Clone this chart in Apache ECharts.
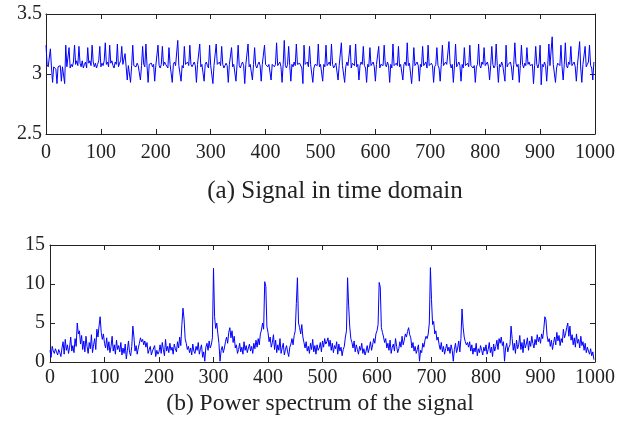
<!DOCTYPE html>
<html>
<head>
<meta charset="utf-8">
<script src="https://cdn.jsdelivr.net/npm/echarts@6/dist/echarts.min.js"></script>
<style>
  html, body { margin: 0; padding: 0; background: #fff; }
  #chart { width: 618px; height: 427px; }
</style>
</head>
<body>
<div id="chart"></div>
<script>
// sample spacing on the x axis (both plots)
var sampleStep = 2;

// (a) signal in time domain, x = 0, 2, 4 ... 998  (10 values = 20 samples per row)
var timeSignal = [
    3.24,3.08,3.06,3.07,3.21,3.05,2.93,3.06,3.07,3.04,
    2.92,3.06,3.05,3.07,2.94,3.06,3.05,2.92,3.24,3.06,
    3.07,3.22,3.05,3.08,3.06,3.10,3.24,3.08,3.11,3.07,
    3.23,3.09,3.06,3.11,3.05,3.08,3.10,3.05,3.22,3.09,
    3.11,3.07,3.24,3.10,3.06,3.09,3.05,3.08,3.11,3.23,
    3.06,3.09,3.07,3.11,3.26,3.08,3.10,3.06,3.24,3.09,
    3.11,3.07,3.05,3.10,3.08,3.25,3.06,3.09,3.11,3.23,
    3.08,3.07,3.17,3.06,2.95,3.07,3.08,2.93,3.07,3.24,
    3.07,3.08,3.06,3.09,3.07,3.08,2.95,3.07,3.23,3.08,
    3.06,3.25,3.07,2.93,3.08,3.07,3.09,3.06,3.08,2.94,
    3.07,3.08,3.24,3.07,3.05,3.08,3.23,3.07,3.10,3.08,
    3.07,3.05,3.22,3.08,3.07,2.93,3.08,3.10,3.07,3.06,
    3.28,3.07,3.08,2.94,3.07,3.05,3.23,3.08,3.07,3.10,
    3.07,3.24,3.08,3.06,3.07,3.10,3.07,2.93,3.08,3.07,
    3.25,3.06,3.08,3.07,2.94,3.08,3.10,3.07,3.05,3.24,
    3.07,3.08,2.92,3.07,3.06,3.25,3.08,3.07,3.10,3.07,
    3.23,3.08,3.05,3.07,3.09,3.07,2.93,3.08,3.07,3.22,
    3.06,3.08,3.07,2.94,3.08,3.24,3.07,3.05,3.08,3.10,
    3.07,2.92,3.08,3.07,3.25,3.06,3.08,3.07,2.95,3.08,
    3.22,3.07,3.05,3.08,3.10,3.07,2.94,3.08,3.07,3.24,
    3.08,3.07,3.06,3.08,3.07,2.95,3.08,3.07,3.06,3.08,
    3.26,3.07,3.08,3.10,3.06,2.93,3.08,3.28,3.07,3.05,
    3.08,3.23,3.07,2.94,3.08,3.06,3.10,3.07,3.25,3.08,
    3.07,3.09,3.08,3.05,2.92,3.24,3.08,3.07,3.10,3.06,
    3.23,3.08,3.07,2.93,3.05,3.08,3.09,3.07,3.25,3.06,
    3.08,3.07,2.94,3.08,3.06,3.24,3.07,3.08,3.10,3.07,
    3.25,3.08,3.05,3.07,3.09,3.08,2.95,3.07,3.06,3.26,
    3.07,3.08,2.93,3.06,3.10,3.07,3.08,3.24,3.05,3.09,
    3.08,3.07,3.25,3.06,3.08,2.95,3.07,3.10,3.08,3.23,
    3.07,3.05,2.93,3.08,3.06,3.22,3.07,3.08,3.10,3.06,
    2.94,3.08,3.07,3.23,3.05,3.08,3.09,3.07,3.24,3.08,
    3.06,3.10,3.07,2.93,3.08,3.05,3.25,3.07,3.08,3.09,
    3.07,3.23,3.06,3.08,3.07,2.95,3.08,3.10,3.07,3.26,
    3.07,3.09,3.08,2.92,3.05,3.22,3.07,3.08,3.10,3.07,
    2.94,3.08,3.06,3.23,3.07,3.08,3.10,3.05,3.24,3.07,
    3.08,3.09,3.07,2.93,3.06,3.08,3.22,3.07,3.05,2.94,
    3.08,3.24,3.07,3.06,3.10,3.08,3.07,3.27,3.09,3.05,
    3.08,2.93,3.07,3.25,3.06,3.08,3.10,3.07,2.94,3.08,
    3.05,3.22,3.07,3.08,3.09,3.06,3.24,3.07,3.08,3.05,
    3.07,2.93,3.06,3.08,3.25,3.07,3.05,3.10,3.08,3.22,
    3.07,3.08,3.10,3.06,2.95,3.07,3.23,3.08,3.05,3.07,
    3.25,3.07,2.93,3.08,3.06,3.10,3.07,3.08,2.94,3.24,
    3.06,3.08,3.07,3.10,3.05,2.95,3.08,3.26,3.09,3.06,
    3.08,2.93,3.07,3.24,3.08,3.05,3.09,3.07,3.22,3.08,
    3.10,3.07,3.06,3.08,2.92,3.07,3.23,3.08,3.05,3.09,
    3.24,2.91,3.08,3.06,3.10,3.07,2.94,3.08,3.25,3.07,
    3.06,3.31,3.08,3.07,2.93,3.05,3.09,3.08,3.07,3.24,
    3.06,2.95,3.08,3.26,3.07,3.05,3.10,3.08,3.23,3.07,
    3.08,3.10,3.06,2.94,3.07,3.08,3.27,3.05,2.93,3.08,
    3.07,3.23,3.06,3.08,3.10,3.24,3.07,3.05,2.95,3.10
];

// (b) power spectrum of the signal, x = 0, 2, 4 ... 998
var powerSpectrum = [
    1.5,0.6,2.0,1.4,1.1,1.7,1.3,0.9,1.6,1.2, 0.7,1.8,2.6,1.0,2.9,1.5,2.2,1.1,1.9,3.2,
    1.4,2.1,1.2,3.0,2.0,5.0,3.6,4.0,2.3,3.4, 1.6,2.7,1.3,3.3,2.0,1.1,2.5,1.7,3.5,1.2,
    2.2,3.0,1.6,4.2,3.2,4.6,5.8,3.8,2.9,3.6,
    2.4,1.8,3.1,1.5,2.6,1.2,2.0,3.3,1.4,2.2, 1.0,2.8,1.6,2.1,1.3,2.5,0.9,1.8,1.1,2.3,
    0.4,1.5,2.7,1.2,0.8,2.0,4.6,3.2,1.4,2.1, 1.0,1.8,2.4,3.1,2.6,2.9,2.2,2.7,1.9,2.5,
    1.1,1.6,2.0,0.9,1.4,1.2,2.1,0.7,1.5,1.0,
    1.3,2.2,1.1,2.5,1.6,0.8,2.9,1.4,2.0,1.2, 2.4,1.5,1.9,1.0,2.3,1.7,1.3,2.6,1.8,3.2,
    2.1,4.8,6.9,5.5,3.0,2.4,1.6,2.0,1.2,1.8, 0.9,2.3,1.4,1.1,2.0,1.5,2.5,1.0,1.7,2.2,
    0.6,1.3,0.1,1.9,2.4,1.5,2.7,1.8,2.2,3.1,
    12.0,5.8,4.3,5.0,3.6,2.4,0.1,1.5,2.0,1.2, 1.8,2.6,3.2,2.4,3.8,4.4,3.1,4.0,2.5,3.3,
    1.8,2.2,1.1,1.6,2.4,1.3,1.9,1.0,2.6,1.5, 2.1,1.2,1.8,2.3,1.4,2.0,1.1,2.4,1.7,2.8,
    1.9,3.0,2.2,3.6,4.1,5.0,4.2,10.3,9.7,4.5,
    3.8,2.6,3.2,1.9,2.5,3.5,1.6,2.8,1.2,2.2, 1.5,3.0,1.1,1.8,2.4,0.9,1.6,2.1,1.3,0.7,
    1.9,2.3,3.0,2.2,3.4,4.0,7.5,10.8,5.0,4.4, 3.6,4.8,3.2,2.5,1.8,2.6,1.4,2.0,1.1,2.4,
    1.6,2.9,1.3,2.1,1.0,2.2,1.5,1.8,2.5,1.3,
    2.7,1.9,3.0,2.3,2.6,3.1,2.0,2.8,1.5,2.4, 1.2,2.1,1.7,2.6,1.0,2.3,1.4,1.9,0.8,1.6,
    2.0,3.2,4.0,10.8,7.2,4.5,3.0,2.5,1.8,2.7, 1.3,2.2,1.6,1.0,2.0,1.5,2.4,1.1,1.7,0.9,
    1.4,2.1,1.2,1.8,2.6,1.5,2.2,3.0,2.4,3.6,
    4.0,4.8,10.2,9.6,4.4,3.8,3.2,2.5,3.0,1.8, 2.4,1.5,2.8,1.1,1.9,2.3,1.4,3.0,2.0,1.2,
    1.7,2.6,1.9,3.3,2.2,2.8,3.6,3.2,3.9,4.4, 3.5,3.1,1.8,2.5,1.4,2.0,1.1,1.6,2.2,0.1,
    1.5,1.2,2.4,1.9,2.8,3.3,3.0,3.6,5.0,12.1,
    8.0,4.8,5.2,3.6,4.0,2.8,3.2,2.2,1.6,2.5, 1.3,2.0,1.0,1.7,2.3,1.4,1.9,1.1,2.2,1.5,
    0.1,1.6,2.4,1.2,1.8,2.7,1.3,3.0,6.8,4.5, 3.2,2.6,2.2,2.5,1.9,2.6,1.4,2.2,1.0,1.8,
    1.3,2.4,0.8,1.7,1.2,2.1,1.5,0.9,1.9,1.4,
    2.2,1.0,1.6,2.5,1.2,1.9,0.7,2.3,1.4,2.0, 2.8,1.6,3.0,2.4,3.2,2.1,2.6,0.1,1.8,2.4,
    1.3,1.9,2.2,4.6,3.0,1.5,2.4,1.1,2.8,1.7, 2.2,3.4,1.6,2.5,1.2,2.9,1.8,2.3,3.1,1.5,
    2.7,2.0,3.3,2.4,1.8,2.9,2.2,3.5,2.6,3.2,
    2.4,3.6,3.0,4.2,5.8,5.4,3.4,2.6,3.0,2.0, 2.8,1.6,2.5,3.2,2.2,3.8,2.7,3.4,2.1,3.0,
    2.5,4.2,3.1,3.6,4.4,5.0,3.3,4.6,2.8,3.5, 2.2,3.1,1.9,3.6,2.4,2.9,1.8,3.3,2.1,2.6,
    1.5,2.4,1.2,1.9,1.4,1.0,1.7,0.8,1.3,0.3
];

var captions = ['(a) Signal in time domain', '(b) Power spectrum of the signal'];

var fontName = 'Liberation Serif';
var lineColor = '#0000ff';
var axisColor = '#222';

function toPoints(arr) {
    return arr.map(function (v, i) { return [i * sampleStep, v]; });
}

// plain numbers, no thousands separator
function plainLabel(v) {
    return String(v);
}

// x axis: bottom one has the labels, top one only mirrors the ticks
function xAxisOf(grid, withLabel, margin) {
    return {
        type: 'value',
        gridIndex: grid,
        position: withLabel ? 'bottom' : 'top',
        min: 0,
        max: 1000,
        interval: 100,
        axisLine: { show: true, onZero: false, lineStyle: { color: axisColor, width: 1 } },
        axisTick: { show: true, inside: true, length: 5, lineStyle: { color: axisColor } },
        axisLabel: {
            show: withLabel,
            margin: margin,
            color: axisColor,
            fontFamily: fontName,
            fontSize: 20,
            formatter: plainLabel
        },
        splitLine: { show: false }
    };
}

function yAxisOf(grid, withLabel, min, max, interval, margin) {
    return {
        type: 'value',
        gridIndex: grid,
        position: withLabel ? 'left' : 'right',
        min: min,
        max: max,
        interval: interval,
        axisLine: { show: true, onZero: false, lineStyle: { color: axisColor, width: 1 } },
        axisTick: { show: true, inside: true, length: 5, lineStyle: { color: axisColor } },
        axisLabel: {
            show: withLabel,
            margin: margin,
            color: axisColor,
            fontFamily: fontName,
            fontSize: 20,
            formatter: plainLabel
        },
        splitLine: { show: false }
    };
}

var dom = echarts.init(document.getElementById('chart'), null, { renderer: 'canvas' });

var option = {
    backgroundColor: '#fff',
    animation: false,
    title: [{
        text: captions[0],
        left: 330,
        top: 174,
        textAlign: 'center',
        textStyle: { color: axisColor, fontFamily: fontName, fontSize: 25, fontWeight: 'normal' }
    }, {
        text: captions[1],
        left: 315,
        top: 387,
        textAlign: 'center',
        textStyle: { color: axisColor, fontFamily: fontName, fontSize: 23.5, fontWeight: 'normal' }
    }],
    grid: [
        { left: 46, top: 14, width: 550, height: 120 },
        { left: 50, top: 245, width: 548, height: 117 }
    ],
    xAxis: [
        xAxisOf(0, true, 9),
        xAxisOf(0, false, 0),
        xAxisOf(1, true, 6),
        xAxisOf(1, false, 0)
    ],
    yAxis: [
        yAxisOf(0, true, 2.5, 3.5, 0.5, 4),
        yAxisOf(0, false, 2.5, 3.5, 0.5, 0),
        yAxisOf(1, true, 0, 15, 5, 5),
        yAxisOf(1, false, 0, 15, 5, 0)
    ],
    series: [{
        type: 'line',
        xAxisIndex: 0,
        yAxisIndex: 0,
        showSymbol: false,
        lineStyle: { color: lineColor, width: 1 },
        data: toPoints(timeSignal)
    }, {
        type: 'line',
        xAxisIndex: 2,
        yAxisIndex: 2,
        showSymbol: false,
        lineStyle: { color: lineColor, width: 1 },
        data: toPoints(powerSpectrum)
    }]
};

dom.setOption(option);
</script>
</body>
</html>
